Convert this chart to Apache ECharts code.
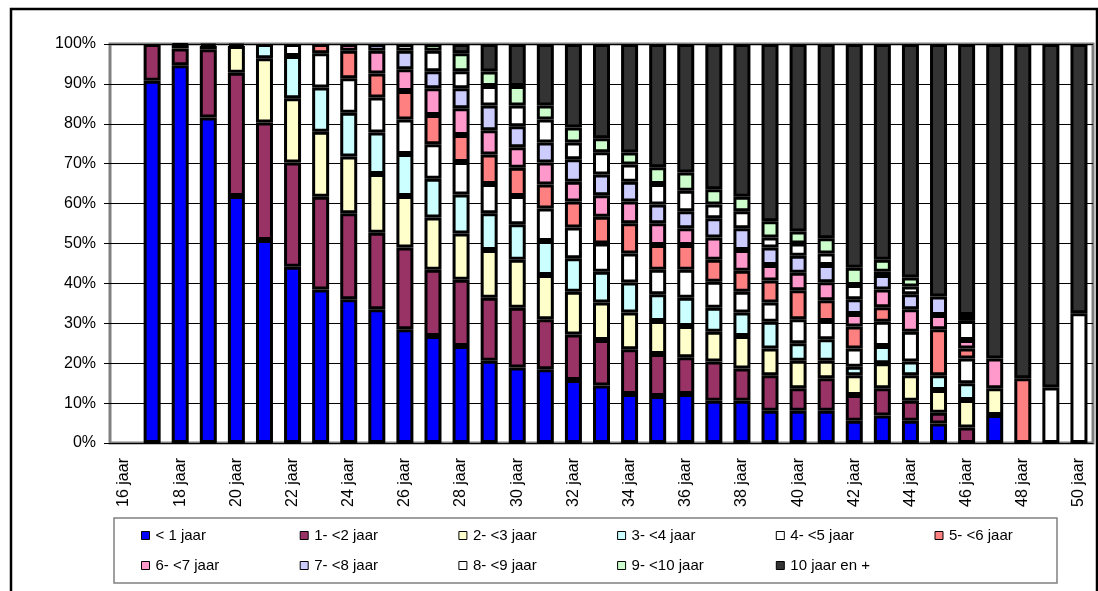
<!DOCTYPE html>
<html>
<head>
<meta charset="utf-8">
<script src="https://cdn.jsdelivr.net/npm/echarts@6/dist/echarts.min.js"></script>
<style>
  html, body { margin: 0; padding: 0; background: #fff; }
  #chart { width: 1098px; height: 591px; }
</style>
</head>
<body>
<div id="chart"></div>
<script>
// leeftijdscategorieën
const categories = ['16 jaar', '17 jaar', '18 jaar', '19 jaar', '20 jaar', '21 jaar', '22 jaar', '23 jaar', '24 jaar',
  '25 jaar', '26 jaar', '27 jaar', '28 jaar', '29 jaar', '30 jaar', '31 jaar', '32 jaar', '33 jaar', '34 jaar',
  '35 jaar', '36 jaar', '37 jaar', '38 jaar', '39 jaar', '40 jaar', '41 jaar', '42 jaar', '43 jaar', '44 jaar',
  '45 jaar', '46 jaar', '47 jaar', '48 jaar', '49 jaar', '50 jaar'];

// aandelen (%) per anciënniteitsklasse
const lt1 = [0, 90.8, 94.3, 81.6, 61.9, 50.9, 44.2, 38.5, 36.0, 33.5, 28.5, 26.8, 24.3, 20.6, 18.9, 18.5, 15.8, 14.4,
  12.3, 11.8, 12.3, 10.6, 10.6, 8.1, 8.1, 8.1, 5.6, 6.9, 5.6, 4.9, 0, 7.0, 0, 0, 0];
const j1tot2 = [0, 9.2, 4.2, 17.1, 30.9, 29.4, 26.1, 23.2, 21.6, 19.2, 20.5, 16.6, 16.6, 15.8, 15.0, 12.5, 11.4, 11.4,
  11.2, 10.5, 9.2, 9.8, 8.1, 8.9, 5.6, 8.1, 6.4, 6.8, 5.0, 2.7, 3.9, 0, 0, 0, 0];
const j2tot3 = [0, 0, 0.8, 0.8, 6.7, 16.1, 16.1, 16.3, 14.2, 14.7, 12.9, 13.1, 11.6, 12.0, 12.0, 11.1, 10.7, 9.4,
  9.2, 8.3, 7.8, 7.5, 8.1, 6.7, 6.9, 4.4, 5.0, 6.3, 6.4, 5.7, 6.9, 6.7, 0, 0, 0];
const j3tot4 = [0, 0, 0.3, 0.5, 0.5, 3.6, 10.6, 11.1, 11.0, 10.4, 10.5, 9.7, 9.8, 9.2, 8.9, 8.5, 8.4, 7.7,
  7.5, 6.7, 7.1, 6.0, 5.9, 6.7, 4.4, 5.4, 2.1, 4.3, 3.4, 3.7, 4.2, 0, 0, 0, 0];
const j4tot5 = [0, 0, 0, 0, 0, 0, 3.0, 8.6, 8.6, 8.8, 8.7, 8.7, 8.1, 7.3, 7.1, 8.2, 7.7, 7.1,
  7.3, 6.1, 7.0, 6.5, 5.2, 4.8, 6.0, 4.6, 4.6, 6.1, 7.5, 0, 6.2, 0, 0, 13.9, 32.5];
const j5tot6 = [0, 0, 0, 0, 0, 0, 0, 2.3, 6.9, 6.0, 7.1, 7.3, 6.8, 7.4, 7.1, 6.0, 6.5, 6.7,
  7.6, 6.2, 6.2, 5.5, 5.3, 5.5, 7.3, 5.2, 5.5, 3.6, 0, 11.5, 2.5, 0, 16.2, 0, 0];
const j6tot7 = [0, 0, 0, 0, 0, 0, 0, 0, 1.7, 5.7, 5.5, 6.7, 6.7, 6.1, 5.1, 5.5, 5.0, 5.4,
  5.4, 5.5, 4.2, 5.6, 5.2, 3.9, 4.4, 4.5, 3.1, 4.5, 5.6, 3.6, 2.1, 7.5, 0, 0, 0];
const j7tot8 = [0, 0, 0, 0, 0, 0, 0, 0, 0, 1.7, 4.6, 4.3, 5.0, 6.2, 5.3, 5.0, 5.6, 5.2,
  5.0, 4.7, 4.3, 4.8, 5.4, 4.4, 4.2, 4.3, 3.7, 3.6, 3.8, 4.6, 0, 0, 0, 0, 0];
const j8tot9 = [0, 0, 0, 0, 0, 0, 0, 0, 0, 0, 1.7, 5.1, 4.3, 4.9, 5.2, 5.8, 4.2, 5.6,
  4.3, 5.1, 5.1, 3.5, 4.3, 2.5, 3.1, 2.9, 3.6, 0.8, 1.9, 0, 4.8, 0, 0, 0, 0];
const j9tot10 = [0, 0, 0, 0, 0, 0, 0, 0, 0, 0, 0, 1.7, 4.5, 3.6, 4.9, 3.5, 3.8, 3.5,
  3.0, 4.2, 4.6, 3.8, 3.6, 4.1, 3.0, 3.8, 4.3, 3.0, 2.3, 0, 1.5, 0, 0, 0, 0];
const j10plus = [0, 0, 0, 0, 0, 0, 0, 0, 0, 0, 0, 0, 2.3, 6.9, 10.5, 15.4, 20.9, 23.6,
  27.2, 30.9, 32.2, 36.4, 38.3, 44.4, 47.0, 48.7, 56.1, 54.1, 58.5, 63.3, 67.9, 78.8, 83.8, 86.1, 67.5];

const yTicks = [0, 10, 20, 30, 40, 50, 60, 70, 80, 90, 100];

const seriesDefs = [
  { name: '< 1 jaar', data: lt1, color: '#0000FF' },
  { name: '1- <2 jaar', data: j1tot2, color: '#993366' },
  { name: '2- <3 jaar', data: j2tot3, color: '#FFFFCC' },
  { name: '3- <4 jaar', data: j3tot4, color: '#CCFFFF' },
  { name: '4- <5 jaar', data: j4tot5, color: '#FFFFFF' },
  { name: '5- <6 jaar', data: j5tot6, color: '#FF8080' },
  { name: '6- <7 jaar', data: j6tot7, color: '#FF99CC' },
  { name: '7- <8 jaar', data: j7tot8, color: '#CCCCFF' },
  { name: '8- <9 jaar', data: j8tot9, color: '#FFFFFF' },
  { name: '9- <10 jaar', data: j9tot10, color: '#CCFFCC' },
  { name: '10 jaar en +', data: j10plus, color: '#333333' }
];

// 100% gestapeld: elke kolom schalen naar zijn totaal
const totals = categories.map((c, i) => seriesDefs.reduce((s, d) => s + d.data[i], 0));

const FONT = 'Liberation Sans, Arial, sans-serif';

const chart = echarts.init(document.getElementById('chart'));

chart.setOption({
  animation: false,
  backgroundColor: '#fff',
  grid: {
    left: 110, right: 5, top: 44, bottom: 148,
    show: true, borderColor: '#808080', borderWidth: 3
  },
  xAxis: {
    type: 'category',
    data: categories,
    axisLine: { lineStyle: { color: '#000', width: 1 } },
    axisTick: { interval: 0, length: 5, lineStyle: { color: '#000' } },
    axisLabel: {
      interval: 1, rotate: 90, margin: 15,
      color: '#000', fontSize: 16, fontFamily: FONT
    }
  },
  yAxis: {
    type: 'value',
    min: yTicks[0], max: yTicks[yTicks.length - 1], interval: 10,
    axisLine: { show: false },
    axisTick: { show: true, length: 6, lineStyle: { color: '#000' } },
    axisLabel: { formatter: '{value}%', color: '#000', fontSize: 16, fontFamily: FONT, margin: 14 },
    splitLine: { lineStyle: { color: '#000', width: 1 } }
  },
  legend: seriesDefs.map((d, i) => ({
    data: [d.name],
    left: 136 + (i % 6) * 158.7,
    top: i < 6 ? 523 : 553,
    icon: 'rect',
    itemWidth: 8, itemHeight: 8,
    itemStyle: { borderColor: '#000', borderWidth: 1 },
    selectedMode: false,
    textStyle: { color: '#000', fontSize: 15, fontFamily: FONT, padding: [0, 0, 0, 1] }
  })),
  graphic: [
    {
      type: 'rect', silent: true,
      shape: { x: 11, y: 9, width: 1086, height: 620 },
      style: { fill: 'none', stroke: '#000', lineWidth: 2.5 }
    },
    {
      type: 'rect', silent: true,
      shape: { x: 114, y: 518, width: 943, height: 65 },
      style: { fill: 'none', stroke: '#808080', lineWidth: 1.5 }
    },
    {
      type: 'text', silent: true, left: 170, top: -16,
      style: { text: 'Anciënniteit naar leeftijd (in jaar)', fill: '#0000FF', font: 'bold 16px ' + FONT }
    }
  ],
  series: seriesDefs.map(d => ({
    name: d.name,
    type: 'bar',
    stack: 'totaal',
    barWidth: 17,
    itemStyle: { color: d.color, borderColor: '#000', borderWidth: 3 },
    data: d.data.map((v, i) => (v > 0 && totals[i] > 0 ? v / totals[i] * 100 : '-'))
  }))
});
</script>
</body>
</html>
